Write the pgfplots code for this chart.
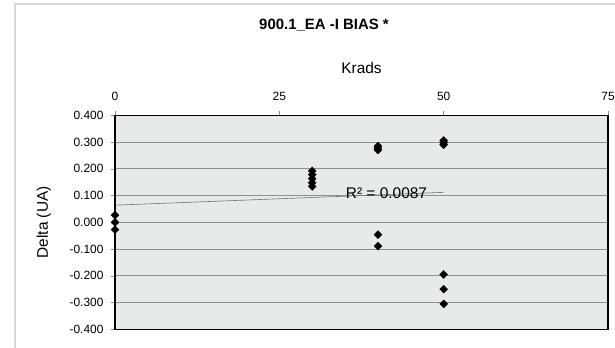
\documentclass[border=0pt]{standalone}
\usepackage{fontspec}
\setmainfont{Liberation Sans}
\usepackage{pgfplots}
\pgfplotsset{compat=1.18}
\definecolor{plotbg}{HTML}{E6EAEA}
\definecolor{gridc}{HTML}{8F8F8F}
\definecolor{framec}{HTML}{D6D6D6}
\begin{document}
\begin{tikzpicture}[x=1bp,y=1bp]
\useasboundingbox (0,0) rectangle (615,347);
\draw[framec, line width=2bp] (15,-10) rectangle (630,342.5);
\node[font=\bfseries\fontsize{15}{17}\selectfont] at (324,322) {900.1\_EA -I BIAS *};
\node[font=\fontsize{15.5}{18}\selectfont] at (361.5,279.3) {Krads};
\node[font=\fontsize{15.5}{18}\selectfont, rotate=90] at (44,124.7) {Delta (UA)};
\begin{axis}[
  at={(115bp,17.7bp)}, anchor=south west,
  scale only axis, width=493bp, height=214bp,
  xmin=0, xmax=75, ymin=-0.4, ymax=0.4,
  xtick={0,25,50,75}, xticklabels={0,25,50,75},
  ytick={-0.4,-0.3,-0.2,-0.1,0,0.1,0.2,0.3,0.4},
  yticklabels={-0.400,-0.300,-0.200,-0.100,0.000,0.100,0.200,0.300,0.400},
  xtick pos=right, xticklabel pos=right, ytick pos=left,
  tick align=outside, major tick length=4bp,
  tick style={gridc, line width=0.6bp},
  ticklabel style={font=\fontsize{12}{14}\selectfont},
  xticklabel style={yshift=7bp},
  yticklabel style={xshift=-4bp},
  ymajorgrids, grid style={gridc, line width=0.8bp},
  axis line style={black, line width=1.3bp},
  axis background/.style={fill=plotbg},
  clip=false,
]
\addplot[gridc!80!black, line width=0.6bp, forget plot] coordinates {(0,0.064) (50,0.112)};
\addplot[only marks, mark=square*, mark size=2.8bp, mark options={rotate=45, fill=black, draw=black}] coordinates {
 (0,0.027) (0,0.0) (0,-0.027)
 (30,0.192) (30,0.178) (30,0.163) (30,0.148) (30,0.134)
 (40,0.285) (40,0.277) (40,0.270) (40,-0.046) (40,-0.089)
 (50,0.306) (50,0.298) (50,0.290) (50,-0.195) (50,-0.250) (50,-0.305)
};
\node[anchor=west, font=\fontsize{15.5}{18}\selectfont, inner sep=0pt] at (axis cs:35.1,0.110) {R² = 0.0087};
\end{axis}
\end{tikzpicture}
\end{document}
